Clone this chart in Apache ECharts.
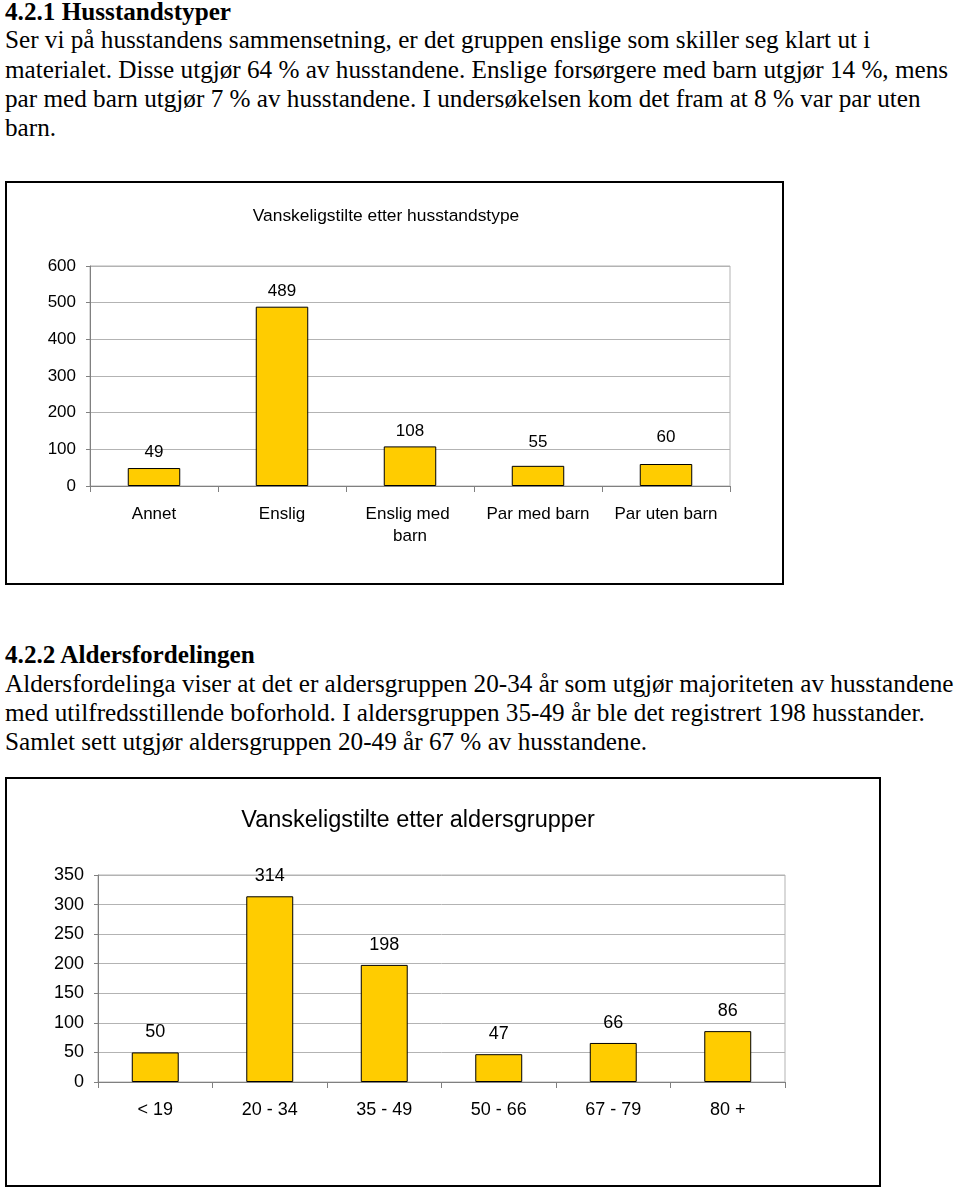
<!DOCTYPE html>
<html><head><meta charset="utf-8">
<script src="https://cdn.jsdelivr.net/npm/echarts@6/dist/echarts.min.js"></script>
<style>
html,body{margin:0;padding:0;background:#fff;}
body{width:960px;height:1188px;position:relative;overflow:hidden;font-family:"Liberation Serif","Times New Roman",serif;color:#000;}
.ln{position:absolute;left:5px;white-space:nowrap;font-size:25.2px;line-height:29px;}
.h{font-weight:bold;}
.box{position:absolute;border:2px solid #000;}
.c{width:100%;height:100%;}
</style></head><body>
<div class="ln h" style="top:-3px">4.2.1 Husstandstyper</div>
<div class="ln" style="top:25px">Ser vi på husstandens sammensetning, er det gruppen enslige som skiller seg klart ut i</div>
<div class="ln" style="top:54.5px">materialet. Disse utgjør 64 % av husstandene. Enslige forsørgere med barn utgjør 14 %, mens</div>
<div class="ln" style="top:84px">par med barn utgjør 7 % av husstandene. I undersøkelsen kom det fram at 8 % var par uten</div>
<div class="ln" style="top:113px">barn.</div>

<div class="box" style="left:5px;top:181px;width:775px;height:400px"><div id="c1" class="c"></div></div>

<div class="ln h" style="top:640px">4.2.2 Aldersfordelingen</div>
<div class="ln" style="top:669px">Aldersfordelinga viser at det er aldersgruppen 20-34 år som utgjør majoriteten av husstandene</div>
<div class="ln" style="top:698px">med utilfredsstillende boforhold. I aldersgruppen 35-49 år ble det registrert 198 husstander.</div>
<div class="ln" style="top:727px">Samlet sett utgjør aldersgruppen 20-49 år 67 % av husstandene.</div>

<div class="box" style="left:5px;top:777px;width:872px;height:406px"><div id="c2" class="c"></div></div>

<script>
// Chart 1 data
const title1 = 'Vanskeligstilte etter husstandstype';
const categories1 = ['Annet', 'Enslig', 'Enslig med barn', 'Par med barn', 'Par uten barn'];
const values1 = [49, 489, 108, 55, 60];
const yMax1 = 600, yStep1 = 100;
// extra upward label shift (styling only)
const labelLift1 = [0, 0, 0, 8, 11];

// Chart 2 data
const title2 = 'Vanskeligstilte etter aldersgrupper';
const categories2 = ['< 19', '20 - 34', '35 - 49', '50 - 66', '67 - 79', '80 +'];
const values2 = [50, 314, 198, 47, 66, 86];
const yMax2 = 350, yStep2 = 50;

const FONT = '"Liberation Sans", Arial, sans-serif';

function makeOption(c) {
  return {
    animation: false,
    textStyle: { fontFamily: FONT, color: '#000' },
    graphic: [{
      type: 'text', x: c.titleX, y: c.titleY,
      style: { text: c.title, fill: '#000', font: c.titleSize + 'px ' + FONT, textAlign: 'center', textVerticalAlign: 'middle' }
    }],
    grid: { left: c.grid[0], right: c.grid[1], top: c.grid[2], bottom: c.grid[3], show: true, borderColor: '#b3b3b3', borderWidth: 1, backgroundColor: 'transparent' },
    xAxis: {
      type: 'category', data: c.cats,
      axisLine: { show: true, lineStyle: { color: '#808080', width: 1 } },
      axisTick: { show: true, length: 6, lineStyle: { color: '#808080' } },
      axisLabel: { interval: 0, color: '#000', fontFamily: FONT, fontSize: c.xFont, margin: c.xMargin, width: c.xWidth, overflow: 'break', lineHeight: c.xLineHeight }
    },
    yAxis: {
      type: 'value', min: 0, max: c.yMax, interval: c.yStep,
      axisLine: { show: true, lineStyle: { color: '#808080', width: 1 } },
      axisTick: { show: true, length: 4, lineStyle: { color: '#808080' } },
      splitLine: { show: true, lineStyle: { color: '#b3b3b3', width: 1 } },
      axisLabel: { color: '#000', fontFamily: FONT, fontSize: c.yFont, margin: c.yMargin }
    },
    series: [{
      type: 'bar',
      data: c.vals.map((v, i) => ({ value: v, label: { offset: [0, -(c.lift ? c.lift[i] : 0)] } })),
      barWidth: '41%',
      itemStyle: { color: '#FFCC00', borderColor: '#000', borderWidth: 1 },
      label: { show: true, position: 'top', distance: c.labelDist, color: '#000', fontFamily: FONT, fontSize: c.labelFont }
    }]
  };
}

const ch1 = echarts.init(document.getElementById('c1'), null, { renderer: 'canvas' });
ch1.setOption(makeOption({
  title: title1, titleX: 379, titleY: 33, titleSize: 17.4,
  grid: [83, 52, 83, 97],
  cats: categories1, vals: values1, yMax: yMax1, yStep: yStep1, lift: labelLift1,
  xFont: 17, xMargin: 17, xWidth: 110, xLineHeight: 22,
  yFont: 17, yMargin: 14,
  labelFont: 17, labelDist: 7
}));

const ch2 = echarts.init(document.getElementById('c2'), null, { renderer: 'canvas' });
ch2.setOption(makeOption({
  title: title2, titleX: 411, titleY: 42, titleSize: 23.5,
  grid: [91, 94, 96, 103],
  cats: categories2, vals: values2, yMax: yMax2, yStep: yStep2,
  xFont: 18, xMargin: 17, xWidth: 110, xLineHeight: 22,
  yFont: 18, yMargin: 14,
  labelFont: 18, labelDist: 11
}));
</script>
</body></html>
